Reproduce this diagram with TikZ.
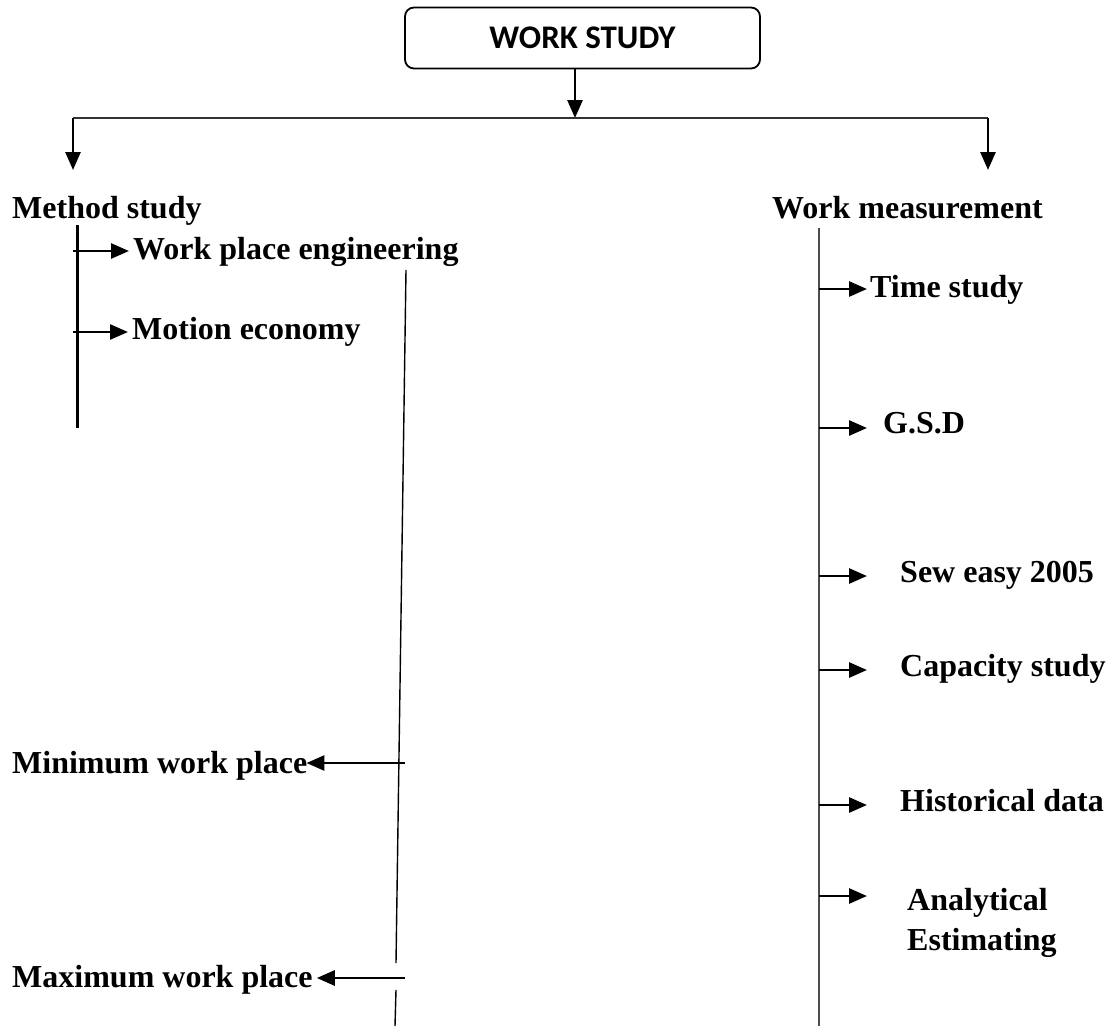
\documentclass[tikz,border=0pt]{standalone}
\usepackage{fontspec}
\setmainfont{Liberation Serif}
\newfontfamily\boxfont{Carlito}
\usetikzlibrary{arrows.meta}
\begin{document}
\begin{tikzpicture}[x=1pt,y=-1pt,
  lbl/.style={anchor=west,inner sep=0pt,font=\fontsize{32}{40}\selectfont\bfseries,text height=0.68em,text depth=0.22em},
  arr/.style={line width=2.8pt,-{Triangle[length=18pt,width=15pt]}},
  thin/.style={line width=1.4pt},
  spine/.style={line width=3pt}]
\useasboundingbox[fill=white] (0,0) rectangle (1109,1026);
% top box
\node[draw,line width=1.8pt,rounded corners=9pt,minimum width=355pt,minimum height=61pt,inner sep=0pt,
  font=\boxfont\bfseries\fontsize{33}{36}\selectfont] (ws) at (582.5,38) {WORK STUDY};
\coordinate (jn) at (575,118);
\coordinate (hl) at (73,118);
\coordinate (hr) at (988,118);
\draw[arr] (ws.south -| jn) -- (jn);
\draw[line width=2.6pt,color=black!80] (hl) -- (hr);
% headers
\node[lbl] (ms) at (12,216) {Method study};
\node[lbl] (wm) at (772,216) {Work measurement};
\draw[arr] (hl) -- ([yshift=-52pt]hl) coordinate (msin);
\draw[arr] (hr) -- ([yshift=-52pt]hr) coordinate (wmin);
% method study branch
\coordinate (mst) at (77,225);
\coordinate (msb) at (77,428);
\draw[spine] (mst) -- (msb);
\node[lbl] (wpe) at (133,257) {Work place engineering};
\node[lbl] (me) at (132,337) {Motion economy};
\coordinate (m1) at (73,251);
\coordinate (m2) at (73,332);
\draw[arr] (m1) -- ([xshift=-4pt]m1 -| wpe.west);
\draw[arr] (m2) -- ([xshift=-4pt]m2 -| me.west);
% work place engineering line
\coordinate (wt) at (406,270);
\coordinate (wg1) at (396,963);
\coordinate (wg2) at (396,990);
\coordinate (wb) at (395,1026);
\draw[thin] (wt) -- (wg1);
\draw[thin] (wg2) -- (wb);
\node[lbl] (minw) at (12,771) {Minimum work place};
\node[lbl] (maxw) at (12,985) {Maximum work place};
\coordinate (p1) at (405,763);
\coordinate (p2) at (405,978);
\draw[arr] (p1) -- ([xshift=-1pt]p1 -| minw.east);
\draw[arr] (p2) -- ([xshift=4pt]p2 -| maxw.east);
% work measurement branch
\coordinate (wmt) at (819,228);
\coordinate (wmb) at (819,1026);
\draw[line width=2.2pt,color=black!70] (wmt) -- (wmb);
\node[lbl] (ts) at (870,295) {Time study};
\node[lbl] (gsd) at (883,431) {G.S.D};
\node[lbl] (se) at (900,580) {Sew easy 2005};
\node[lbl] (cs) at (900,674) {Capacity study};
\node[lbl] (hd) at (900,809) {Historical data};
\node[anchor=north west,inner sep=0pt,align=left,font=\fontsize{32}{40}\selectfont\bfseries] (ae) at (907,888) {Analytical\\Estimating};
\coordinate (r1) at (819,289);
\coordinate (r2) at (819,428);
\coordinate (r3) at (819,576);
\coordinate (r4) at (819,670);
\coordinate (r5) at (819,805);
\coordinate (r6) at (819,896);
\coordinate (t1) at (867,289);
\coordinate (t2) at (867,428);
\coordinate (t3) at (867,576);
\coordinate (t4) at (867,670);
\coordinate (t5) at (867,805);
\coordinate (t6) at (867,896);
\draw[arr] (r1) -- (t1);
\draw[arr] (r2) -- (t2);
\draw[arr] (r3) -- (t3);
\draw[arr] (r4) -- (t4);
\draw[arr] (r5) -- (t5);
\draw[arr] (r6) -- (t6);
\end{tikzpicture}
\end{document}
